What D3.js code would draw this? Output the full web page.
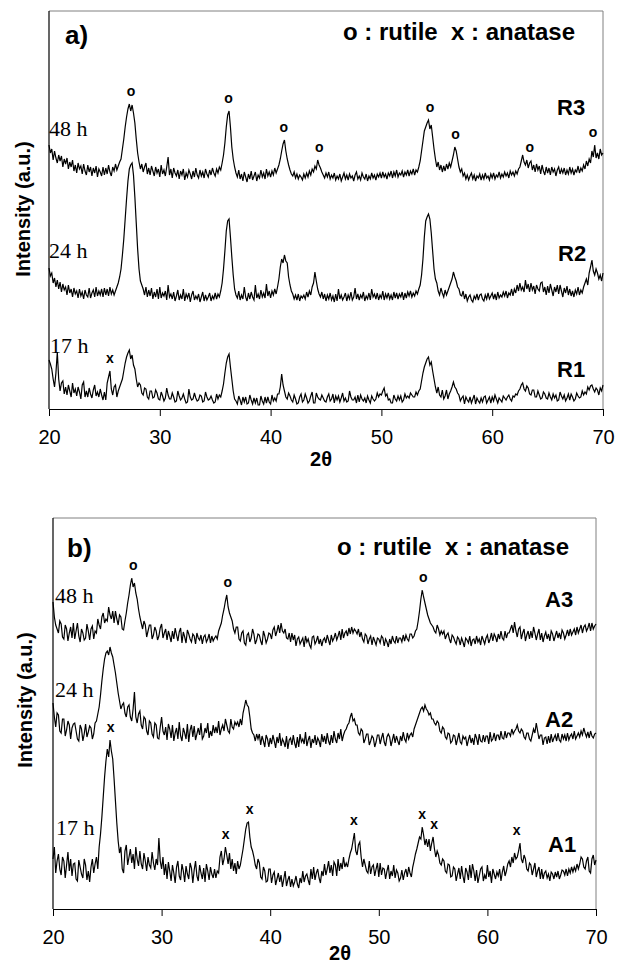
<!DOCTYPE html>
<html>
<head>
<meta charset="utf-8">
<script src="https://cdn.jsdelivr.net/npm/d3@7"></script>
<style>
body { margin: 0; background: #fff; }
svg { display: block; }
</style>
</head>
<body>
<div id="chart"></div>
<script>
// scans: 2theta from 20 to 70, step 0.125 (one row = 5 degrees)
const start_2theta = 20;
const step_2theta = 0.125;

// panel a) rutile-route samples
const R1 = [
  49,45,40,30,22,36,57,30,18,26,28,15,22,14,24,18,12,26,16,20,13,22,17,10,24,27,12,18,12,21,15,11,19,24,13,17,12,20,14,9,
  17,9,26,32,38,20,14,22,24,12,18,22,26,30,38,46,52,56,59,50,54,44,40,30,22,26,24,16,14,21,20,12,10,18,18,11,12,19,16,10,
  9,17,13,8,11,21,14,10,10,16,12,7,8,18,13,9,11,15,10,6,7,20,12,9,10,16,11,8,9,14,13,7,8,17,12,9,10,13,9,6,
  7,15,10,14,12,18,25,36,46,52,55,42,30,18,10,8,5,13,9,4,12,7,12,5,6,14,9,5,11,6,11,4,4,13,8,5,12,6,12,7,
  5,14,8,11,8,15,15,22,35,24,18,12,10,16,13,9,7,14,10,5,6,12,15,7,9,15,11,6,8,13,17,6,6,16,12,10,9,14,11,8,
  7,12,15,8,10,15,6,13,9,13,7,11,16,8,11,7,8,18,12,9,9,12,6,14,7,14,10,8,11,6,13,9,6,13,10,8,10,16,12,15,
  14,18,21,13,15,9,10,6,6,14,10,8,13,9,13,7,9,15,11,13,11,16,14,12,12,17,14,18,20,28,36,42,46,50,52,44,47,38,30,22,
  16,22,14,12,19,10,13,19,10,15,18,22,27,22,20,16,14,8,11,13,5,12,9,7,12,6,10,14,5,11,8,6,11,7,12,13,6,9,12,6,
  12,8,14,10,6,11,9,7,13,11,9,12,14,10,8,13,12,15,14,18,20,24,26,20,18,23,21,15,14,19,19,12,12,18,14,10,11,17,15,11,
  10,16,12,9,15,11,14,8,9,17,13,10,14,8,11,15,9,15,12,8,10,16,13,11,12,18,14,17,15,22,19,23,24,20,17,21,19,14,21,18,
  24];
const R2 = [
  41,33,36,26,31,22,29,20,27,17,25,19,22,14,24,16,20,12,21,15,18,11,20,13,17,10,19,14,12,21,11,16,19,12,22,13,18,14,20,12,
  21,14,20,13,22,15,19,14,18,22,26,32,40,54,70,90,110,128,140,144,146,134,112,86,60,40,28,24,20,14,22,12,19,13,21,10,17,12,20,10,
  22,11,16,13,18,9,24,12,15,10,17,8,13,19,9,14,10,20,8,15,11,16,7,14,18,9,13,10,15,7,12,17,8,14,9,12,16,8,13,10,
  16,10,15,12,18,26,40,58,78,88,90,72,52,34,20,14,11,18,9,14,10,22,12,8,16,10,17,12,9,24,11,15,10,19,12,16,11,25,13,18,
  11,18,14,20,15,22,30,42,50,46,54,48,46,32,24,18,15,10,14,9,15,8,13,11,14,10,17,12,18,14,22,26,37,28,20,15,12,17,10,15,
  8,14,10,16,9,13,7,15,8,20,10,14,9,12,16,8,14,10,17,9,12,21,10,15,9,14,11,17,8,13,10,16,9,20,12,15,10,16,9,14,
  11,18,9,15,11,16,10,14,9,17,11,16,10,15,12,17,9,16,11,17,13,18,12,16,13,18,15,20,24,34,50,72,88,92,95,90,76,58,40,30,
  26,18,14,21,16,12,19,14,18,22,26,30,37,32,28,22,20,14,13,18,10,15,8,12,14,9,7,13,10,15,9,14,15,10,8,14,10,16,10,13,
  16,10,15,9,17,11,14,12,17,13,18,11,16,14,20,13,20,16,24,18,26,19,22,17,29,20,25,17,26,19,23,15,24,20,18,26,27,17,22,14,
  23,16,25,19,13,22,17,24,15,24,18,12,21,16,23,14,20,13,18,12,19,15,22,14,19,16,22,26,30,24,36,42,49,38,34,40,36,30,34,28,
  36];
const R3 = [
  44,36,40,29,38,31,26,34,28,33,22,30,25,31,20,27,22,29,18,24,16,26,20,23,15,25,18,14,24,17,22,13,21,16,23,12,20,17,13,22,
  14,21,15,24,17,13,22,18,25,19,23,27,30,40,50,62,72,80,85,78,84,76,66,50,36,27,20,25,17,22,26,15,21,14,23,18,13,22,16,20,
  12,24,15,19,13,22,32,14,20,11,21,16,13,19,10,18,14,20,9,16,12,19,15,10,18,12,21,14,11,19,13,17,11,20,15,12,19,14,21,16,
  13,20,16,22,19,26,34,46,62,74,78,62,42,30,22,16,12,19,10,15,8,17,12,7,15,10,18,9,13,17,8,14,11,19,12,16,10,20,13,17,
  12,18,14,21,16,20,24,30,38,45,49,38,30,24,19,15,13,17,11,15,10,14,12,9,15,11,16,12,18,14,20,17,23,20,29,24,21,17,14,11,
  16,12,17,10,14,11,16,9,13,10,15,8,12,16,10,14,9,15,11,13,8,14,17,10,13,9,16,12,10,15,8,13,10,16,11,14,9,15,12,16,
  11,17,12,15,10,16,13,18,11,17,13,19,12,16,14,18,12,17,14,19,13,18,15,20,14,19,17,22,28,38,48,58,62,66,69,60,64,52,40,30,
  22,27,19,24,17,23,18,25,20,26,22,28,34,42,38,30,22,17,20,13,16,10,14,9,13,16,10,14,8,13,11,15,9,14,10,16,11,13,9,15,
  11,16,10,14,12,17,11,15,12,17,13,16,11,18,14,17,13,18,15,20,22,28,34,27,24,29,21,26,28,19,24,17,25,19,23,15,24,18,14,22,
  16,21,14,22,17,20,13,19,22,15,20,16,21,14,19,15,22,16,20,14,19,17,23,16,21,18,24,20,28,23,30,26,38,32,44,31,36,30,40,34,
  36];

// panel b) anatase-route samples
const A1 = [
  50,62,36,48,55,40,34,52,48,31,44,57,38,50,33,45,46,30,28,49,42,35,31,50,44,29,38,27,42,50,36,45,52,40,62,75,92,112,132,148,
  160,152,169,158,150,130,108,86,68,56,62,40,36,58,64,44,52,60,46,55,40,62,50,43,58,45,40,56,48,38,52,44,41,57,46,39,50,44,71,48,
  40,52,34,45,30,47,38,28,44,36,26,42,48,33,29,45,38,27,43,35,30,46,41,26,39,48,33,28,44,36,30,41,27,45,38,29,42,35,31,40,
  31,38,36,52,58,44,50,62,54,45,56,40,50,38,46,35,48,40,44,52,60,70,80,86,87,72,62,58,52,44,40,50,46,32,30,42,38,27,28,40,
  40,26,34,37,24,30,36,27,34,22,30,38,23,29,33,22,30,23,27,33,25,21,31,26,38,27,33,35,29,24,40,30,42,29,36,40,31,26,38,33,
  45,34,40,48,36,44,33,47,44,33,50,38,46,40,52,42,46,42,50,56,60,68,76,58,54,64,67,52,42,50,44,38,36,48,35,42,44,33,40,46,
  32,46,34,41,40,30,38,44,30,38,33,44,31,39,36,28,31,39,29,36,40,32,42,36,32,42,48,55,60,66,72,70,82,74,64,70,62,70,58,66,
  72,60,52,58,54,46,44,50,48,38,36,45,44,32,33,42,40,28,35,41,30,43,33,26,41,37,29,44,31,45,38,28,39,26,33,40,42,28,34,30,
  44,32,38,26,40,35,30,37,33,40,28,37,43,33,38,45,48,42,52,46,56,50,52,58,66,50,46,54,50,40,38,46,44,34,40,46,32,38,42,30,
  40,30,36,38,31,35,28,37,35,30,37,32,38,30,34,39,38,34,40,33,40,36,42,37,42,38,45,40,45,52,50,42,40,48,52,38,36,50,54,44,
  49];
const A2 = [
  66,52,42,56,54,38,36,50,50,33,39,48,44,30,41,45,46,38,30,28,44,40,28,35,45,32,37,43,41,30,35,46,48,55,62,74,88,100,110,116,
  118,114,122,116,112,104,96,86,76,68,60,64,66,56,52,62,64,52,48,60,77,52,46,55,58,44,40,52,50,38,34,48,46,35,32,46,44,31,30,42,
  52,38,34,42,29,45,40,31,44,28,36,41,30,47,33,28,41,36,30,45,27,39,44,32,43,29,35,41,34,46,30,33,41,36,46,31,38,33,44,36,
  42,36,48,34,40,44,38,50,44,38,36,50,42,40,47,44,47,42,50,44,56,62,69,64,62,52,40,36,34,28,35,30,35,24,33,28,22,34,30,22,
  31,25,34,28,21,32,26,36,23,30,27,22,33,20,29,31,24,34,26,21,32,22,35,27,30,25,37,23,29,33,21,30,26,34,24,31,28,22,35,27,
  33,25,36,28,24,34,26,38,30,26,36,30,40,28,34,38,40,44,46,52,56,48,50,44,44,36,34,40,38,26,30,35,35,24,28,33,31,22,27,34,
  34,25,31,36,27,23,32,35,32,23,29,35,26,33,28,24,33,28,37,30,27,36,30,34,36,32,40,44,48,52,56,60,62,58,64,60,58,54,56,50,
  50,46,44,48,46,38,36,42,40,32,30,36,35,26,28,34,33,24,30,36,27,25,33,30,32,23,29,34,26,31,24,35,31,24,35,28,27,34,27,33,
  33,25,37,28,30,36,28,34,34,29,38,31,30,38,31,36,36,33,40,35,38,40,44,38,36,40,38,32,30,36,36,30,28,34,40,36,46,38,30,34,
  34,24,31,32,25,33,26,35,27,31,34,28,36,29,27,35,30,34,28,36,29,33,35,30,38,30,33,36,32,38,34,41,36,32,37,31,38,33,31,35,
  36];
const A3 = [
  67,52,44,40,36,48,45,32,30,44,40,28,36,42,31,46,30,38,46,33,27,40,36,29,31,45,38,29,40,43,30,38,36,50,44,40,52,56,46,50,
  48,62,54,50,58,46,58,50,44,54,52,40,39,48,56,66,74,84,91,82,86,76,70,60,52,46,40,48,44,32,38,44,44,30,34,42,38,29,33,41,
  45,31,36,40,29,38,33,27,38,30,41,34,28,37,41,26,37,32,26,39,35,30,27,35,33,25,36,31,29,34,25,32,34,27,30,35,26,33,28,31,
  33,30,38,42,46,54,60,68,74,62,56,52,48,40,36,42,42,30,28,36,38,26,24,34,36,27,31,40,35,25,29,35,34,28,24,38,33,26,30,36,
  35,30,39,42,33,38,44,36,46,38,36,40,31,30,36,27,36,29,34,23,30,32,25,28,31,22,33,27,30,24,21,32,33,25,28,33,25,30,23,29,
  31,26,34,29,24,34,28,31,36,29,33,38,29,40,31,36,38,33,41,35,42,36,40,38,35,40,32,37,30,27,35,33,25,30,33,24,32,28,24,31,
  30,26,33,31,23,30,27,22,30,25,33,28,26,33,26,31,31,27,34,28,34,30,28,35,35,31,33,38,40,48,58,70,79,72,66,60,54,50,46,44,
  42,38,36,44,40,34,38,35,38,30,34,36,30,26,34,32,28,25,32,30,24,31,27,22,31,29,26,33,23,29,30,25,33,27,30,24,33,29,25,31,
  34,26,30,36,28,35,32,27,35,30,38,31,29,38,31,36,36,40,44,36,47,38,32,40,42,30,36,40,28,34,38,30,38,31,42,36,29,35,40,29,
  36,27,33,37,30,35,28,38,35,28,33,38,31,36,30,39,36,30,34,39,33,40,34,37,40,34,42,36,40,44,36,42,44,38,41,46,38,46,40,43,
  45];

// stacking offsets (a.u.)
const a_offsets = [0, 100, 220];
const b_offsets = [0, 140, 240];
const a_names = ['R1', 'R2', 'R3'];
const b_names = ['A1', 'A2', 'A3'];
const times = ['17 h', '24 h', '48 h'];
const x_ticks = [20, 30, 40, 50, 60, 70];

// phase markers: [trace index, 2theta]
const a_rutile = [[2, 27.4], [2, 36.2], [2, 41.2], [2, 44.4], [2, 54.4], [2, 56.7], [2, 63.4], [2, 69.1]];
const a_anatase = [[0, 25.5]];
const b_rutile = [[2, 27.4], [2, 36.1], [2, 54.1]];
const b_anatase = [[0, 25.3], [0, 35.9], [0, 38.1], [0, 47.7], [0, 54.0], [0, 55.1], [0, 62.7]];

const width = 619;
const height = 965;

const svg = d3.select('#chart').append('svg')
    .attr('width', width)
    .attr('height', height);

function drawPanel(p) {
    const x = d3.scaleLinear().domain([20, 70]).range([p.left, p.right]);
    const y = d3.scaleLinear().domain([0, p.bottom - p.top]).range([p.bottom, p.top]);
    const g = svg.append('g');

    // plot border (grey top/right)
    g.append('path')
        .attr('d', `M${p.left},${p.top}H${p.right}V${p.bottom}`)
        .attr('fill', 'none')
        .attr('stroke', '#808080')
        .attr('stroke-width', 1);

    // left axis line, no ticks
    g.append('line')
        .attr('x1', p.left).attr('x2', p.left)
        .attr('y1', p.top).attr('y2', p.bottom)
        .attr('stroke', '#000').attr('stroke-width', 1.2);

    const xAxis = g.append('g')
        .attr('transform', `translate(0, ${p.bottom})`)
        .call(d3.axisBottom(x).tickValues(x_ticks).tickSize(7).tickSizeOuter(0).tickPadding(14));
    xAxis.select('.domain').attr('stroke', '#000').attr('stroke-width', 1.2);
    xAxis.selectAll('.tick line').attr('stroke', '#000');
    xAxis.selectAll('.tick text')
        .attr('font-family', 'Liberation Sans, Arial, sans-serif')
        .attr('font-size', 20)
        .attr('fill', '#000');

    const line = d3.line()
        .x((d, i) => x(start_2theta + i * step_2theta))
        .y(d => y(d));

    p.traces.forEach((t, k) => {
        g.append('path')
            .datum(t.map(v => v + p.offsets[k]))
            .attr('fill', 'none')
            .attr('stroke', '#000')
            .attr('stroke-width', 1.2)
            .attr('d', line);
    });

    // markers sit a little above the local maximum of their trace
    const peakTop = (k, tt) => {
        const t = p.traces[k];
        let m = -Infinity;
        t.forEach((v, i) => {
            const a = start_2theta + i * step_2theta;
            if (Math.abs(a - tt) <= 0.35) m = Math.max(m, v);
        });
        return y(m + p.offsets[k]) - 13;
    };
    const marks = p.rutile.map(d => ['o', d]).concat(p.anatase.map(d => ['x', d]));
    g.selectAll('text.mark').data(marks).enter().append('text')
        .attr('class', 'mark')
        .attr('x', d => x(d[1][1]))
        .attr('y', d => peakTop(d[1][0], d[1][1]))
        .attr('text-anchor', 'middle')
        .attr('dominant-baseline', 'central')
        .attr('font-family', 'Liberation Sans, Arial, sans-serif')
        .attr('font-weight', 'bold')
        .attr('font-size', 14)
        .text(d => d[0]);

    const bold = (sel, size) => sel
        .attr('font-family', 'Liberation Sans, Arial, sans-serif')
        .attr('font-weight', 'bold')
        .attr('font-size', size)
        .attr('fill', '#000');

    g.append('text').attr('x', p.title[1]).attr('y', p.title[2]).call(bold, 26).text(p.title[0]);
    g.append('text').attr('x', p.legend[0]).attr('y', p.legend[1]).call(bold, 24)
        .attr('xml:space', 'preserve').style('white-space', 'pre')
        .text('o : rutile  x : anatase');

    p.names.forEach((n, k) => {
        g.append('text').attr('x', p.nameX[k]).attr('y', p.nameY[k]).call(bold, 22).text(n);
        g.append('text').attr('x', p.timeX[k]).attr('y', p.timeY[k])
            .attr('font-family', 'Liberation Serif, Times New Roman, serif')
            .attr('font-size', 22)
            .attr('fill', '#000')
            .text(times[k]);
    });

    g.append('text')
        .attr('transform', `translate(${p.ylab[0]}, ${p.ylab[1]}) rotate(-90)`)
        .attr('text-anchor', 'middle')
        .attr('dominant-baseline', 'central')
        .call(bold, 20)
        .text('Intensity (a.u.)');

    g.append('text').attr('x', p.xlab[0]).attr('y', p.xlab[1])
        .attr('text-anchor', 'middle')
        .call(bold, 20)
        .text('2θ');
}

drawPanel({
    left: 49, right: 603, top: 11, bottom: 409,
    traces: [R1, R2, R3], offsets: a_offsets, names: a_names,
    rutile: a_rutile, anatase: a_anatase,
    title: ['a)', 65, 44], legend: [343, 40],
    nameX: [557, 558, 557], nameY: [377, 261, 115],
    timeX: [50, 49, 49], timeY: [353, 258, 136],
    ylab: [23, 209], xlab: [321, 466]
});

drawPanel({
    left: 53, right: 596, top: 518, bottom: 909,
    traces: [A1, A2, A3], offsets: b_offsets, names: b_names,
    rutile: b_rutile, anatase: b_anatase,
    title: ['b)', 67, 557], legend: [337, 555],
    nameX: [548, 545, 545], nameY: [852, 727, 607],
    timeX: [56, 55, 55], timeY: [835, 697, 603],
    ylab: [25, 700], xlab: [340, 960]
});
</script>
</body>
</html>
